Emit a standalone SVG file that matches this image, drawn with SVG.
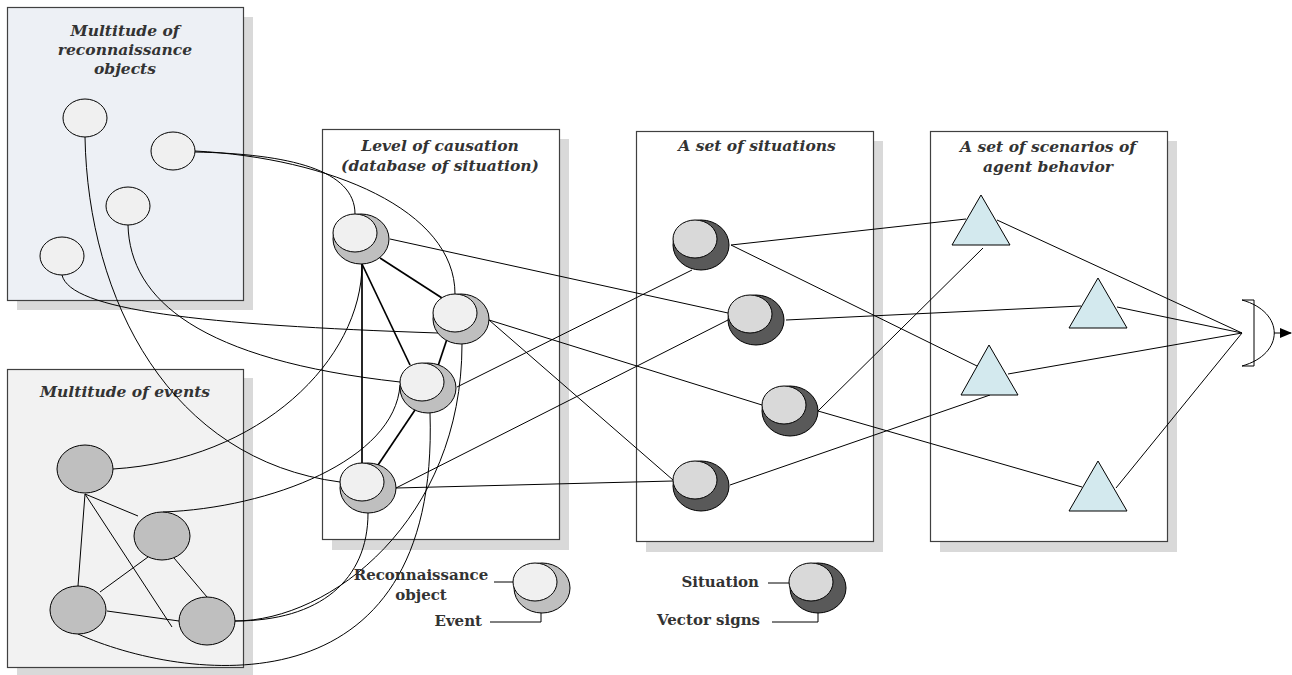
<svg xmlns="http://www.w3.org/2000/svg" width="1292" height="675" viewBox="0 0 1292 675">
<defs>
<style>
.shadow{fill:#d9d9d9;stroke:none}
.box{stroke:#404040;stroke-width:1.2}
.title{font-family:"DejaVu Serif",serif;font-weight:bold;font-style:italic;font-size:15.5px;fill:#333;text-anchor:middle}
.leg{font-family:"DejaVu Serif",serif;font-weight:bold;font-size:15px;fill:#333}
.ro{fill:#f0f0f0;stroke:#000;stroke-width:1}
.ev{fill:#bfbfbf;stroke:#000;stroke-width:1}
.sitd{fill:#595959;stroke:#000;stroke-width:1}
.sitl{fill:#d9d9d9;stroke:#000;stroke-width:1}
.tri{fill:#d3e9ee;stroke:#000;stroke-width:1}
.c{fill:none;stroke:#000;stroke-width:1}
.ct{fill:none;stroke:#000;stroke-width:1.7}
</style>
<marker id="arr" markerWidth="12" markerHeight="10" refX="11" refY="5" orient="auto" markerUnits="userSpaceOnUse">
<path d="M0,0 L12,5 L0,10 Z" fill="#000"/>
</marker>
</defs>

<g id="box-recon">
<rect class="shadow" x="17" y="17" width="236" height="293"/>
<rect class="box" x="7.5" y="7.5" width="236" height="293" fill="#edf0f5"/>
<text class="title" x="125" y="36">Multitude of</text>
<text class="title" x="125" y="55">reconnaissance</text>
<text class="title" x="125" y="74">objects</text>
</g>
<g id="box-events">
<rect class="shadow" x="17" y="378" width="236" height="298"/>
<rect class="box" x="7.5" y="369.5" width="236" height="298" fill="#f2f2f2"/>
<text class="title" x="125" y="397">Multitude of events</text>
</g>
<g id="box-causation">
<rect class="shadow" x="332" y="139" width="237" height="411"/>
<rect class="box" x="322.5" y="129.5" width="237" height="410" fill="#fff"/>
<text class="title" x="440" y="151">Level of causation</text>
<text class="title" x="440" y="171">(database of situation)</text>
</g>
<g id="box-situations">
<rect class="shadow" x="646" y="141" width="237" height="411"/>
<rect class="box" x="636.5" y="131.5" width="237" height="410" fill="#fff"/>
<text class="title" x="757" y="151">A set of situations</text>
</g>
<g id="box-scenarios">
<rect class="shadow" x="940" y="141" width="237" height="411"/>
<rect class="box" x="930.5" y="131.5" width="237" height="410" fill="#fff"/>
<text class="title" x="1048" y="152">A set of scenarios of</text>
<text class="title" x="1048" y="172">agent behavior</text>
</g>

<g id="connectors">
<!-- events internal -->
<line class="c" x1="85" y1="494" x2="78" y2="586"/>
<line class="c" x1="85" y1="494" x2="138" y2="516"/>
<line class="c" x1="85" y1="494" x2="172" y2="627"/>
<line class="c" x1="148" y1="557" x2="100" y2="592"/>
<line class="c" x1="174" y1="558" x2="207" y2="597"/>
<line class="c" x1="107" y1="611" x2="179" y2="621"/>
<!-- curves from recon objects -->
<path class="c" d="M195,152 C290,154 355,170 355,214"/>
<path class="c" d="M195,151 C330,158 455,210 455,294"/>
<path class="c" d="M85,137 C88,300 170,460 340,482"/>
<path class="c" d="M128,225 C130,300 200,360 400,382"/>
<path class="c" d="M62,275 C70,310 200,325 438,333"/>
<!-- curves from events -->
<path class="c" d="M113,469 C260,460 362,360 362,264"/>
<path class="c" d="M163,512 C270,508 395,460 400,385"/>
<path class="c" d="M235,621 C320,621 368,580 368,513"/>
<path class="c" d="M235,621 C330,621 462,520 462,344"/>
<path class="c" d="M78,634 C180,680 440,720 430,413"/>
<!-- causation internal -->
<line class="ct" x1="362" y1="264" x2="362" y2="463"/>
<line class="ct" x1="380" y1="258" x2="442" y2="298"/>
<line class="ct" x1="362" y1="264" x2="410" y2="365"/>
<line class="ct" x1="449" y1="333" x2="438" y2="366"/>
<line class="ct" x1="415" y1="410" x2="378" y2="465"/>
<!-- causation to situations -->
<line class="c" x1="390" y1="239" x2="728" y2="313"/>
<line class="c" x1="489" y1="320" x2="762" y2="405"/>
<line class="c" x1="489" y1="320" x2="673" y2="480"/>
<line class="c" x1="457" y1="387" x2="692" y2="270"/>
<line class="c" x1="396" y1="488" x2="728" y2="320"/>
<line class="c" x1="396" y1="488" x2="673" y2="481"/>
<!-- situations to scenarios -->
<line class="c" x1="731" y1="245" x2="966" y2="219"/>
<line class="c" x1="731" y1="245" x2="977" y2="366"/>
<line class="c" x1="786" y1="320" x2="1081" y2="306"/>
<line class="c" x1="818" y1="411" x2="983" y2="248"/>
<line class="c" x1="818" y1="411" x2="1082" y2="487"/>
<line class="c" x1="730" y1="485" x2="990" y2="395"/>
<!-- scenarios to output -->
<line class="c" x1="997" y1="220" x2="1242" y2="333"/>
<line class="c" x1="1117" y1="307" x2="1242" y2="333"/>
<line class="c" x1="1008" y1="374" x2="1242" y2="333"/>
<line class="c" x1="1116" y1="488" x2="1242" y2="333"/>
<!-- legend leaders -->
<line class="c" x1="494" y1="582" x2="525" y2="582"/>
<polyline class="c" points="490,622 541,622 541,608"/>
<line class="c" x1="768" y1="583" x2="798" y2="583"/>
<polyline class="c" points="772,622 818,622 818,608"/>
</g>

<g id="recon-objects">
<ellipse class="ro" cx="85" cy="118" rx="22" ry="19"/>
<ellipse class="ro" cx="173" cy="151" rx="22" ry="19"/>
<ellipse class="ro" cx="128" cy="206" rx="22" ry="19"/>
<ellipse class="ro" cx="62" cy="256" rx="22" ry="19"/>
</g>
<g id="events">
<ellipse class="ev" cx="85" cy="469" rx="28" ry="24"/>
<ellipse class="ev" cx="162" cy="536" rx="28" ry="24"/>
<ellipse class="ev" cx="78" cy="610" rx="28" ry="24"/>
<ellipse class="ev" cx="207" cy="621" rx="28" ry="24"/>
</g>
<g id="causation-nodes">
<g id="c1"><ellipse class="ev" cx="361" cy="239" rx="28" ry="25"/><ellipse class="ro" cx="355" cy="233" rx="22" ry="19"/></g>
<g id="c2"><ellipse class="ev" cx="461" cy="319" rx="28" ry="25"/><ellipse class="ro" cx="455" cy="313" rx="22" ry="19"/></g>
<g id="c3"><ellipse class="ev" cx="428" cy="388" rx="28" ry="25"/><ellipse class="ro" cx="422" cy="382" rx="22" ry="19"/></g>
<g id="c4"><ellipse class="ev" cx="368" cy="488" rx="28" ry="25"/><ellipse class="ro" cx="362" cy="482" rx="22" ry="19"/></g>
</g>
<g id="situation-nodes">
<g id="s1"><ellipse class="sitd" cx="701" cy="245" rx="28" ry="25"/><ellipse class="sitl" cx="695" cy="239" rx="22" ry="19"/></g>
<g id="s2"><ellipse class="sitd" cx="756" cy="320" rx="28" ry="25"/><ellipse class="sitl" cx="750" cy="314" rx="22" ry="19"/></g>
<g id="s3"><ellipse class="sitd" cx="790" cy="411" rx="28" ry="25"/><ellipse class="sitl" cx="784" cy="405" rx="22" ry="19"/></g>
<g id="s4"><ellipse class="sitd" cx="701" cy="486" rx="28" ry="25"/><ellipse class="sitl" cx="695" cy="480" rx="22" ry="19"/></g>
</g>
<g id="scenarios">
<polygon class="tri" points="981,195 1010,245 952,245"/>
<polygon class="tri" points="1098,278 1127,328 1069,328"/>
<polygon class="tri" points="989,345 1018,395 961,395"/>
<polygon class="tri" points="1098,461 1127,511 1069,511"/>
</g>
<g id="output">
<polyline class="c" points="1242,300 1254,300 1254,366 1242,366"/>
<path class="c" d="M1242,300 C1285,312 1285,354 1242,366"/>
<line class="c" x1="1274" y1="333" x2="1291" y2="333" marker-end="url(#arr)"/>
</g>
<g id="legend">
<g id="legend-causation"><ellipse class="ev" cx="542" cy="588" rx="28" ry="25"/><ellipse class="ro" cx="535" cy="582" rx="22" ry="19"/></g>
<text class="leg" x="421" y="580" text-anchor="middle">Reconnaissance</text>
<text class="leg" x="421" y="600" text-anchor="middle">object</text>
<text class="leg" x="482" y="626" text-anchor="end">Event</text>
<g id="legend-situation"><ellipse class="sitd" cx="818" cy="588" rx="28" ry="25"/><ellipse class="sitl" cx="811" cy="582" rx="22" ry="19"/></g>
<text class="leg" x="759" y="587" text-anchor="end">Situation</text>
<text class="leg" x="760" y="625" text-anchor="end">Vector signs</text>
</g>
</svg>
